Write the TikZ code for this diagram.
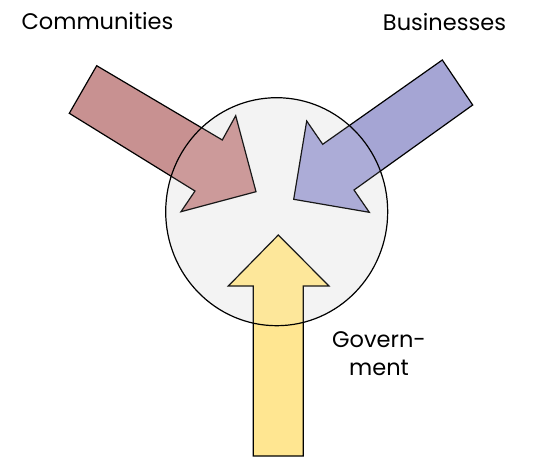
\documentclass[tikz,border=0pt]{standalone}
\usepackage{fontspec}
\setmainfont{Poppins}
\definecolor{redarrow}{RGB}{200,145,145}
\definecolor{bluearrow}{RGB}{165,165,212}
\definecolor{yellowarrow}{RGB}{255,230,145}
\definecolor{circlefill}{RGB}{243,243,243}
\tikzset{
  arrowshape/.style={draw=black, line width=1.2pt, line join=miter},
  label/.style={font=\fontsize{22.5}{28}\selectfont, align=center, inner sep=0pt}
}
\begin{document}
\begin{tikzpicture}[x=1pt,y=-1pt]
\useasboundingbox (0,0) rectangle (533,458);
% circle background
\fill[circlefill] (276.7,211.7) ellipse [x radius=111, y radius=114];
% red arrow
\path[arrowshape, fill=redarrow] (96.7,65.7) -- (222.3,140) -- (235.7,115.7) -- (256,191.7) -- (181,211.7) -- (195,191) -- (69.3,113.3) -- cycle;
% blue arrow
\path[arrowshape, fill=bluearrow] (442.3,60) -- (322.7,144.3) -- (306.7,121) -- (293.7,199.3) -- (369.3,212.3) -- (354,190) -- (472.7,105) -- cycle;
% yellow arrow
\path[arrowshape, fill=yellowarrow] (278.3,235) -- (329,286) -- (303.3,286) -- (303.3,456) -- (253.3,456) -- (253.3,286) -- (228.3,286) -- cycle;
% circle overlay and outline
\fill[circlefill, fill opacity=0.1] (276.7,211.7) ellipse [x radius=111, y radius=114];
\draw[line width=1.2pt] (276.7,211.7) ellipse [x radius=111, y radius=114];
% labels
\node[label] (comm) at (97.5,21) {Communities};
\node[label] (bus) at (444.5,22) {Businesses};
\node[label] (gov) at (379,354) {Govern-\\ment};
\end{tikzpicture}
\end{document}
